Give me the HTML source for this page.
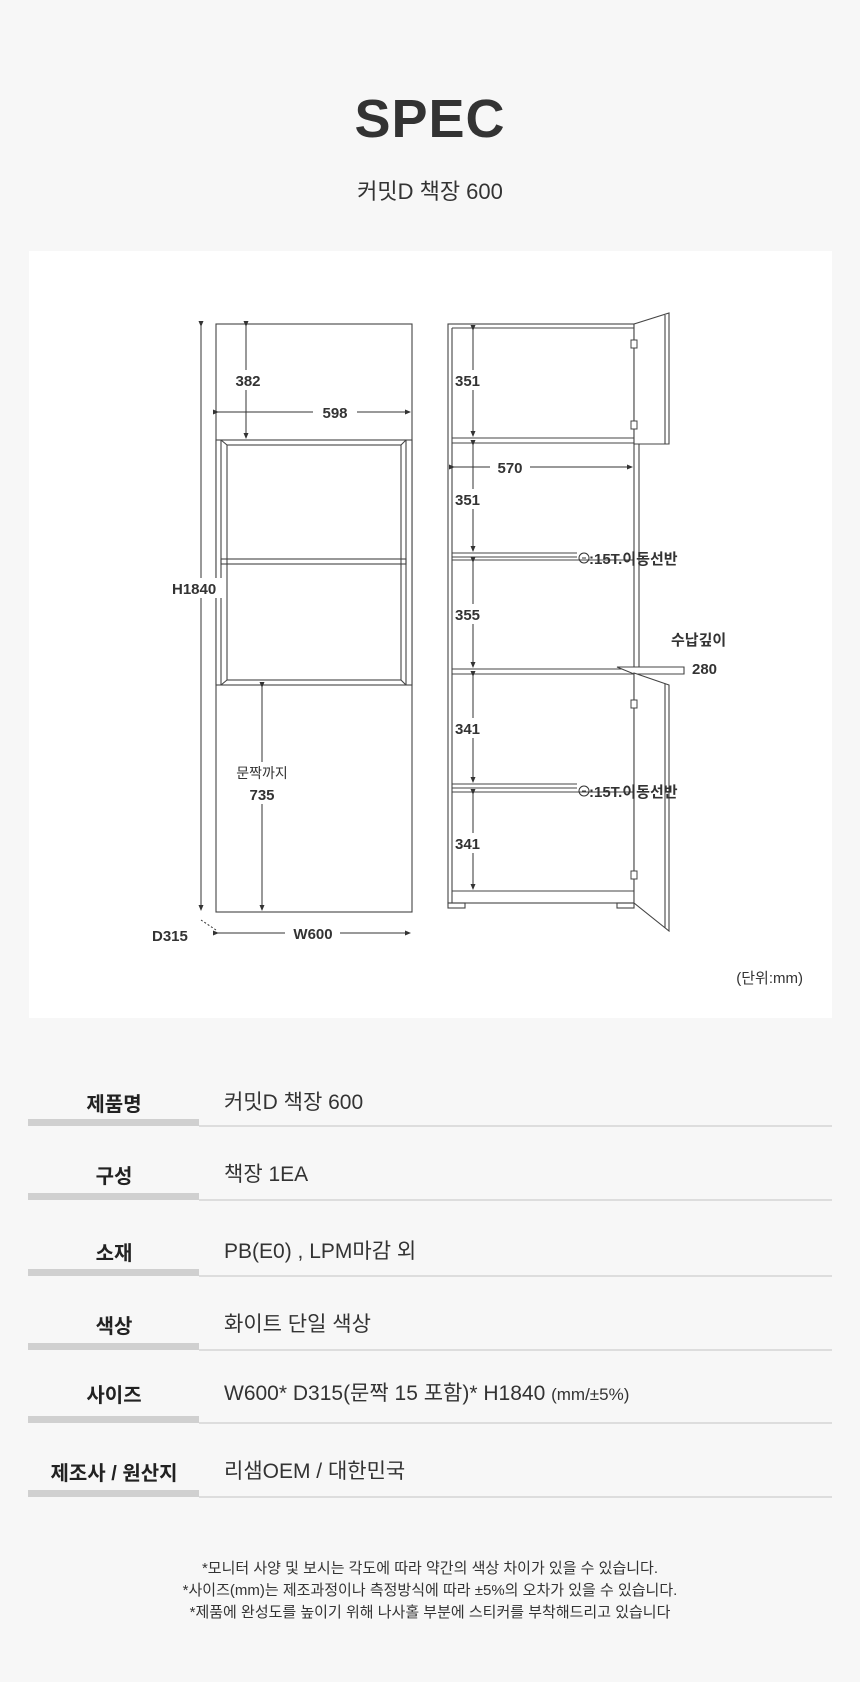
<!DOCTYPE html>
<html><head><meta charset="utf-8"><style>
body{margin:0;background:#f7f7f7;}
#p{position:relative;width:860px;height:1682px;background:#f7f7f7;overflow:hidden;font-family:"Liberation Sans","Noto Sans CJK KR",sans-serif;color:#333;}
.t{position:absolute;white-space:nowrap;}
.lab{position:absolute;left:28px;width:172px;text-align:center;font-size:20px;font-weight:bold;color:#222;}
.val{position:absolute;left:224px;font-size:21px;color:#333;}
.bar{position:absolute;left:28px;width:171px;height:7px;background:#d0d0d0;}
.ln{position:absolute;left:199px;width:633px;height:2px;background:#ddd;}
.foot{position:absolute;left:0;width:860px;text-align:center;font-size:15px;color:#333;}
</style></head><body><div id="p">
<div class="t" style="left:0;width:860px;text-align:center;top:88px;font-size:54px;font-weight:bold;color:#333;letter-spacing:1px">SPEC</div>
<div class="t" style="left:0;width:860px;text-align:center;top:174px;font-size:22px;color:#333">커밋D 책장 600</div>
<div style="position:absolute;left:29px;top:251px;width:803px;height:767px;background:#fff"></div>
<svg style="position:absolute;left:0;top:0" width="860" height="1020" xmlns="http://www.w3.org/2000/svg" font-family="Liberation Sans, Noto Sans CJK KR, sans-serif">
<defs><marker id="a" markerWidth="6" markerHeight="6" refX="5" refY="3" orient="auto"><path d="M0,0.5 L6,3 L0,5.5z" fill="#333"/></marker></defs>
<g fill="none" stroke="#444" stroke-width="1.1">
<rect x="216" y="324" width="196" height="588"/>
<rect x="216" y="440" width="196" height="245" fill="#fff"/>
<line x1="221" y1="440" x2="221" y2="685"/><line x1="406" y1="440" x2="406" y2="685"/>
<rect x="227" y="445" width="174" height="235"/>
<line x1="221" y1="440" x2="227" y2="445"/><line x1="406" y1="440" x2="401" y2="445"/>
<line x1="221" y1="685" x2="227" y2="680"/><line x1="406" y1="685" x2="401" y2="680"/>
<rect x="221" y="559" width="185" height="5"/>
<rect x="448" y="324" width="186" height="579"/>
<line x1="452" y1="328" x2="452" y2="903"/>
<line x1="452" y1="328" x2="634" y2="328"/>
<line x1="452" y1="438" x2="634" y2="438"/><line x1="452" y1="443" x2="634" y2="443"/>
<line x1="452" y1="553" x2="577" y2="553"/><line x1="452" y1="557" x2="577" y2="557"/><line x1="452" y1="560" x2="634" y2="560"/>
<line x1="452" y1="669" x2="634" y2="669"/><line x1="452" y1="674" x2="634" y2="674"/>
<line x1="452" y1="784" x2="577" y2="784"/><line x1="452" y1="788" x2="577" y2="788"/><line x1="452" y1="792" x2="634" y2="792"/>
<line x1="452" y1="891" x2="634" y2="891"/>
<line x1="639" y1="443" x2="639" y2="670"/>
<rect x="448" y="903" width="17" height="5"/><rect x="617" y="903" width="17" height="5"/>
<polygon points="634,324 669,313 669,444 634,444" fill="#fff"/><line x1="665" y1="315" x2="665" y2="444"/>
<polygon points="617,667 684,667 684,674 634,674" fill="#fff"/>
<polygon points="634,673 669,685 669,931 634,903" fill="#fff"/><line x1="665" y1="684" x2="665" y2="928"/>
</g>
<g fill="#fff" stroke="#444" stroke-width="1">
<rect x="631" y="340" width="6" height="8"/><rect x="631" y="421" width="6" height="8"/><rect x="631" y="700" width="6" height="8"/><rect x="631" y="871" width="6" height="8"/>
</g>
<g stroke="#333" stroke-width="1" marker-start="url(#a)" marker-end="url(#a)">
<line x1="201" y1="326" x2="201" y2="910"/>
<line x1="246" y1="326" x2="246" y2="438"/>
<line x1="262" y1="687" x2="262" y2="910"/>
<line x1="473" y1="330" x2="473" y2="436"/>
<line x1="473" y1="445" x2="473" y2="551"/>
<line x1="473" y1="562" x2="473" y2="667"/>
<line x1="473" y1="676" x2="473" y2="782"/>
<line x1="473" y1="794" x2="473" y2="889"/>
</g>
<g stroke="#333" stroke-width="1">
<line x1="218" y1="412" x2="313" y2="412" marker-start="url(#a)"/><line x1="357" y1="412" x2="410" y2="412" marker-end="url(#a)"/>
<line x1="218" y1="933" x2="285" y2="933" marker-start="url(#a)"/><line x1="340" y1="933" x2="410" y2="933" marker-end="url(#a)"/>
<line x1="454" y1="467" x2="490" y2="467" marker-start="url(#a)"/><line x1="530" y1="467" x2="632" y2="467" marker-end="url(#a)"/>
<line x1="201" y1="920" x2="216" y2="930" stroke-dasharray="2,2"/>
</g>
<g fill="#fff"><rect x="236" y="370" width="28" height="20"/><rect x="455" y="370" width="34" height="20"/><rect x="455" y="489" width="34" height="20"/><rect x="455" y="604" width="34" height="20"/><rect x="455" y="718" width="34" height="20"/><rect x="455" y="833" width="34" height="20"/><rect x="175" y="578" width="48" height="20"/><rect x="246" y="762" width="36" height="42"/></g>
<g font-size="15" font-weight="bold" fill="#333">
<text x="248" y="386" text-anchor="middle">382</text>
<text x="335" y="418" text-anchor="middle">598</text>
<text x="172" y="594">H1840</text>
<text x="262" y="800" text-anchor="middle">735</text>
<text x="313" y="939" text-anchor="middle">W600</text>
<text x="152" y="941">D315</text>
<text x="455" y="386">351</text>
<text x="510" y="473" text-anchor="middle">570</text>
<text x="455" y="505">351</text>
<text x="455" y="620">355</text>
<text x="455" y="734">341</text>
<text x="455" y="849">341</text>
<text x="589" y="564">:15T.이동선반</text>
<text x="589" y="797">:15T.이동선반</text>
<text x="671" y="645">수납깊이</text>
<text x="692" y="674">280</text>
</g>
<text x="262" y="778" text-anchor="middle" font-size="14" fill="#333">문짝까지</text>
<circle cx="584" cy="558" r="5" fill="none" stroke="#333"/><circle cx="584" cy="791" r="5" fill="none" stroke="#333"/>
<line x1="582" y1="558" x2="586" y2="558" stroke="#333"/><line x1="582" y1="791" x2="586" y2="791" stroke="#333"/>
<text x="803" y="983" text-anchor="end" font-size="15" fill="#333">(단위:mm)</text>
</svg>

<div class="lab" style="top:1088px">제품명</div><div class="val" style="top:1086px">커밋D 책장 600</div><div class="bar" style="top:1119px"></div><div class="ln" style="top:1125px"></div>
<div class="lab" style="top:1160px">구성</div><div class="val" style="top:1158px">책장 1EA</div><div class="bar" style="top:1193px"></div><div class="ln" style="top:1199px"></div>
<div class="lab" style="top:1237px">소재</div><div class="val" style="top:1235px">PB(E0) , LPM마감 외</div><div class="bar" style="top:1269px"></div><div class="ln" style="top:1275px"></div>
<div class="lab" style="top:1310px">색상</div><div class="val" style="top:1308px">화이트 단일 색상</div><div class="bar" style="top:1343px"></div><div class="ln" style="top:1349px"></div>
<div class="lab" style="top:1379px">사이즈</div><div class="val" style="top:1377px">W600* D315(문짝 15 포함)* H1840 <span style="font-size:17px">(mm/±5%)</span></div><div class="bar" style="top:1416px"></div><div class="ln" style="top:1422px"></div>
<div class="lab" style="top:1457px">제조사 / 원산지</div><div class="val" style="top:1455px">리샘OEM / 대한민국</div><div class="bar" style="top:1490px"></div><div class="ln" style="top:1496px"></div>

<div class="foot" style="top:1557px">*모니터 사양 및 보시는 각도에 따라 약간의 색상 차이가 있을 수 있습니다.</div>
<div class="foot" style="top:1579px">*사이즈(mm)는 제조과정이나 측정방식에 따라 ±5%의 오차가 있을 수 있습니다.</div>
<div class="foot" style="top:1601px">*제품에 완성도를 높이기 위해 나사홀 부분에 스티커를 부착해드리고 있습니다</div>
</div></body></html>
